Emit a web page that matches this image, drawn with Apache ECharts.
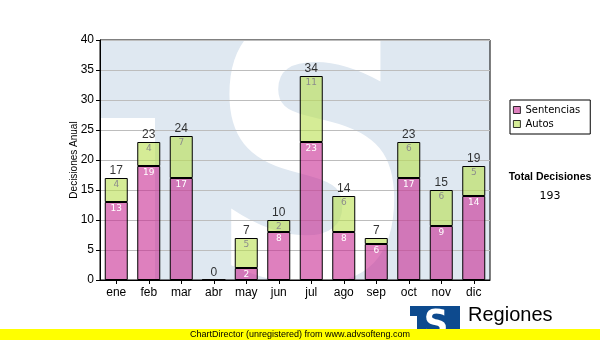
<!DOCTYPE html>
<html>
<head>
<meta charset="utf-8">
<script src="https://cdn.jsdelivr.net/npm/echarts@6/dist/echarts.min.js"></script>
<style>
  html, body { margin: 0; padding: 0; background: #fff; }
  #chart { width: 600px; height: 340px; }
</style>
</head>
<body>
<div id="chart"></div>
<script>
// Monthly decisions, split by type
const months = ['ene', 'feb', 'mar', 'abr', 'may', 'jun', 'jul', 'ago', 'sep', 'oct', 'nov', 'dic'];
const sentencias = [13, 19, 17, 0, 2, 8, 23, 8, 6, 17, 9, 14];
const autos = [4, 4, 7, 0, 5, 2, 11, 6, 1, 6, 6, 5];
const yMin = 0, yMax = 40, yStep = 5;

const totals = months.map((_, i) => sentencias[i] + autos[i]);
const grandTotal = totals.reduce((a, b) => a + b, 0);

const PINK = 'rgba(200,43,147,0.6)';
const GREEN = 'rgba(185,223,80,0.6)';

// segment labels are left out when the segment is too thin to hold them
const segLabel = (color) => ({
  show: true,
  position: 'insideTop',
  distance: 2,
  color: color,
  fontFamily: 'DejaVu Sans',
  fontSize: 9,
  formatter: (p) => (p.value >= 2 ? String(p.value) : '')
});

const chart = echarts.init(document.getElementById('chart'), null, { renderer: 'canvas' });

chart.setOption({
  animation: false,
  backgroundColor: '#fff',
  textStyle: { fontFamily: 'Liberation Sans' },
  grid: {
    left: 100, right: 110, top: 40, bottom: 60,
    show: true, borderColor: '#000', borderWidth: 1, backgroundColor: 'transparent'
  },
  legend: {
    data: ['Sentencias', 'Autos'],
    orient: 'vertical',
    left: 510, top: 100,
    padding: [5, 10, 5, 3],
    itemWidth: 7, itemHeight: 7, itemGap: 4,
    borderColor: '#000', borderWidth: 1,
    icon: 'rect',
    itemStyle: { borderWidth: 0.8 },
    textStyle: { fontFamily: 'DejaVu Sans', fontSize: 10, color: '#000' }
  },
  xAxis: {
    type: 'category',
    data: months,
    axisLine: { lineStyle: { color: '#000', width: 1 } },
    axisTick: { show: true, alignWithLabel: true, length: 4, lineStyle: { color: '#000' } },
    axisLabel: { color: '#000', fontSize: 12, margin: 7, fontFamily: 'Liberation Sans' },
    splitLine: { show: false }
  },
  yAxis: {
    type: 'value',
    min: yMin, max: yMax, interval: yStep,
    name: 'Decisiones Anual',
    nameLocation: 'middle',
    nameGap: 21,
    nameMoveOverlap: false,
    nameTextStyle: { color: '#000', fontSize: 10, fontFamily: 'Liberation Sans' },
    axisLine: { show: true, lineStyle: { color: '#000', width: 1 } },
    axisTick: { show: true, length: 4, lineStyle: { color: '#000' } },
    axisLabel: { color: '#000', fontSize: 12, margin: 6, fontFamily: 'Liberation Sans' },
    splitLine: { show: true, lineStyle: { color: '#bdbdbd', width: 1 } }
  },
  series: [
    {
      name: 'Sentencias', type: 'bar', stack: 'dec', barWidth: 23,
      data: sentencias,
      itemStyle: { color: PINK, borderColor: '#000', borderWidth: 1 },
      label: segLabel('#ffffff'),
      z: 3
    },
    {
      name: 'Autos', type: 'bar', stack: 'dec', barWidth: 23,
      data: autos,
      itemStyle: { color: GREEN, borderColor: '#000', borderWidth: 1 },
      label: segLabel('#8c8c8c'),
      z: 3
    },
    {
      name: 'Total', type: 'scatter',
      data: totals,
      symbolSize: 1,
      itemStyle: { color: 'transparent' },
      label: {
        show: true, position: 'top', distance: 1,
        color: '#000', fontSize: 12, fontFamily: 'Liberation Sans',
        formatter: (p) => String(p.value)
      },
      z: 5
    }
  ],
  graphic: [
    // watermark behind the plot area
    { type: 'rect', z: -10, silent: true, shape: { x: 100, y: 40, width: 390, height: 240 }, style: { fill: '#dfe8f1' } },
    { type: 'rect', z: -9, silent: true, shape: { x: 100, y: 118, width: 55, height: 162 }, style: { fill: '#ffffff' } },
    { type: 'text', z: -9, silent: true, x: 312, y: 186, scaleX: 0.8,
      style: { text: 'S', font: 'bold 358px "DejaVu Sans"', fill: '#ffffff', align: 'center', verticalAlign: 'middle' } },
    { type: 'rect', z: -8, silent: true, shape: { x: 90, y: 281, width: 410, height: 48 }, style: { fill: '#ffffff' } },
    { type: 'rect', z: -8, silent: true, shape: { x: 90, y: 0, width: 410, height: 39.5 }, style: { fill: '#ffffff' } },

    // totals block
    { type: 'text', z: 5, x: 550, y: 177,
      style: { text: 'Total Decisiones', font: 'bold 10.5px "Liberation Sans"', fill: '#000', align: 'center', verticalAlign: 'middle' } },
    { type: 'text', z: 5, x: 550, y: 196,
      style: { text: String(grandTotal), font: '11px "DejaVu Sans"', fill: '#000', align: 'center', verticalAlign: 'middle' } },

    // logo
    { type: 'rect', z: 20, shape: { x: 410, y: 306, width: 50, height: 34 }, style: { fill: '#0d4a8e' } },
    { type: 'rect', z: 21, shape: { x: 410, y: 316, width: 7, height: 24 }, style: { fill: '#ffffff' } },
    { type: 'text', z: 21, x: 436, y: 326, scaleX: 0.9,
      style: { text: 'S', font: 'bold 38px "DejaVu Sans"', fill: '#ffffff', align: 'center', verticalAlign: 'middle' } },
    { type: 'text', z: 21, x: 468, y: 315,
      style: { text: 'Regiones', font: '20px "Liberation Sans"', fill: '#000', align: 'left', verticalAlign: 'middle' } },

    // footer band
    { type: 'rect', z: 30, shape: { x: 0, y: 329, width: 600, height: 11 }, style: { fill: '#ffff00' } },
    { type: 'text', z: 31, x: 190, y: 334.5,
      style: { text: 'ChartDirector (unregistered) from www.advsofteng.com', font: '9px "Liberation Sans"', fill: '#000', align: 'left', verticalAlign: 'middle' } }
  ]
});
</script>
</body>
</html>
